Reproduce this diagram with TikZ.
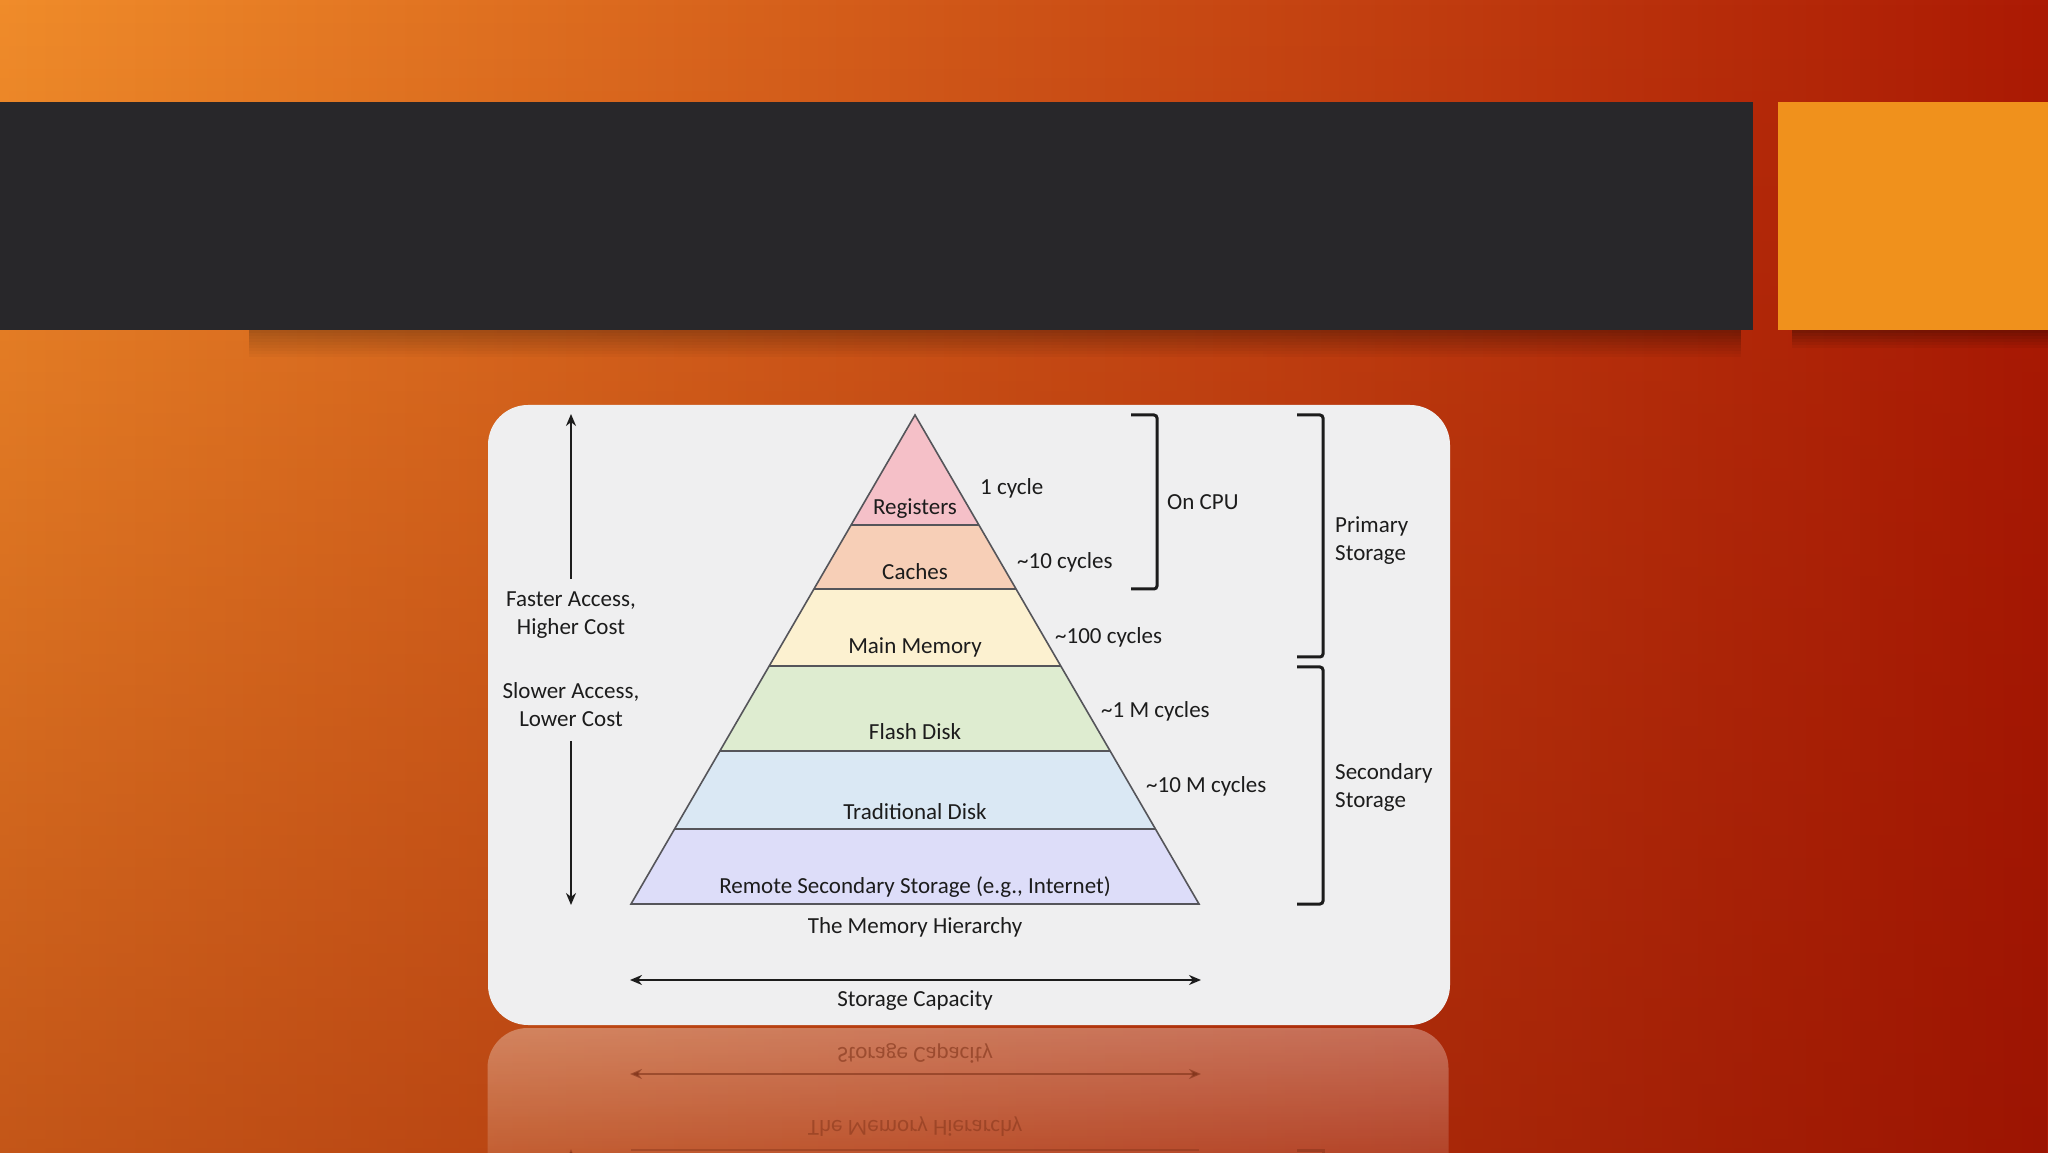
\documentclass[tikz,border=0pt]{standalone}
\usepackage{fontspec}
\setmainfont{Carlito}
\usetikzlibrary{arrows.meta,fadings,calc}
\definecolor{bgA}{RGB}{240,140,42}
\definecolor{bgB}{RGB}{216,84,16}
\definecolor{bgC}{RGB}{172,26,4}
\definecolor{bgDark}{RGB}{135,12,0}
\definecolor{bannerc}{RGB}{40,39,42}
\definecolor{accent}{RGB}{240,145,28}
\definecolor{panelc}{RGB}{239,239,240}
\definecolor{cReg}{RGB}{245,192,200}
\definecolor{cCache}{RGB}{247,207,183}
\definecolor{cMain}{RGB}{252,241,208}
\definecolor{cFlash}{RGB}{222,236,208}
\definecolor{cTrad}{RGB}{218,232,244}
\definecolor{cRemote}{RGB}{221,221,249}
\definecolor{ink}{RGB}{28,28,28}
\definecolor{edgec}{RGB}{85,85,90}
\definecolor{reflink}{RGB}{120,45,20}
\tikzfading[name=reflfade, top color=transparent!68, bottom color=transparent!95]
\tikzfading[name=darkbottom, top color=transparent!100, bottom color=transparent!0]
\begin{tikzfadingfrompicture}[name=hfade]
  \shade[left color=transparent!100, right color=transparent!0] (0,0) rectangle (10,1);
\end{tikzfadingfrompicture}
\tikzset{
  lab/.style={font=\fontsize{23}{28}\selectfont, text=ink, inner sep=0pt},
  refllab/.style={font=\fontsize{23}{28}\selectfont, text=reflink, inner sep=0pt, yscale=-1, opacity=0.55},
  edgeline/.style={draw=edgec, line width=1.6},
  bracketline/.style={draw=ink, line width=3, rounded corners=3},
  arrowline/.style={draw=ink, line width=2.6, -{Stealth[length=12, width=10]}},
  reflline/.style={draw=reflink, line width=2.6, opacity=0.55},
}
\begin{document}
\begin{tikzpicture}[x=1pt, y=1pt]
\useasboundingbox (0,0) rectangle (2048,1152);
% background
\shade[left color=bgA, middle color=bgB, right color=bgC] (0,0) rectangle (2048,1152);
\fill[bgDark, fill opacity=0.42, path fading=darkbottom] (0,0) rectangle (2048,1152);
% banner shadows (soft, darker toward the right)
\foreach \i [evaluate=\i as \op using 0.55*(1-\i/9)] in {0,...,8}{
  \fill[black, fill opacity=\op, path fading=hfade] (250,819-3*\i) rectangle (1742,822-3*\i);
}
\foreach \i [evaluate=\i as \op using 0.3*(1-\i/6)] in {0,...,5}{
  \fill[black, fill opacity=\op] (1792,819-3*\i) rectangle (2048,822-3*\i);
}
% banner and accent
\fill[bannerc] (0,822) rectangle (1753,1050);
\fill[accent] (1778,822) rectangle (2048,1050);
% panel
\fill[panelc, rounded corners=40] (488,127) rectangle (1450,747);
% pyramid
\coordinate (A) at (915,737);
\coordinate (BL) at (631,248);
\coordinate (BR) at (1199,248);
\foreach \ta/\tb/\col in {0/0.225/cReg, 0.225/0.356/cCache, 0.356/0.513/cMain, 0.513/0.687/cFlash, 0.687/0.847/cTrad, 0.847/1/cRemote}{
  \fill[\col] ($(A)!\ta!(BL)$) -- ($(A)!\tb!(BL)$) -- ($(A)!\tb!(BR)$) -- ($(A)!\ta!(BR)$) -- cycle;
}
\foreach \tb in {0.225,0.356,0.513,0.687,0.847}{
  \draw[edgeline] ($(A)!\tb!(BL)$) -- ($(A)!\tb!(BR)$);
}
\draw[edgeline, line join=miter] (A) -- (BL) -- (BR) -- cycle;
% layer labels
\node[lab] (reg) at (915,643) {Registers};
\node[lab] (cache) at (915,580) {Caches};
\node[lab] (mainm) at (915,505) {Main Memory};
\node[lab] (flash) at (915,420) {Flash Disk};
\node[lab] (trad) at (915,340) {Traditional Disk};
\node[lab] (remote) at (915,265) {Remote Secondary Storage (e.g., Internet)};
\node[lab] (title) at (915,225) {The Memory Hierarchy};
% latency labels
\node[lab, anchor=west] (l1) at (980,664) {1 cycle};
\node[lab, anchor=west] (l2) at (1017,590) {\textasciitilde10 cycles};
\node[lab, anchor=west] (l3) at (1055,515) {\textasciitilde100 cycles};
\node[lab, anchor=west] (l4) at (1101,441) {\textasciitilde1 M cycles};
\node[lab, anchor=west] (l5) at (1146,366) {\textasciitilde10 M cycles};
% brackets
\draw[bracketline] (1131,737) -- (1157,737) -- (1157,563) -- (1131,563);
\node[lab, anchor=west] (oncpu) at (1167,650) {On CPU};
\draw[bracketline] (1297,737) -- (1323,737) -- (1323,495) -- (1297,495);
\node[lab, anchor=west, align=left] (prim) at (1335,611) {Primary\\Storage};
\draw[bracketline] (1297,485) -- (1323,485) -- (1323,248) -- (1297,248);
\node[lab, anchor=west, align=left] (sec) at (1335,365) {Secondary\\Storage};
% left arrows
\node[lab, align=center] (fast) at (571,537) {Faster Access,\\Higher Cost};
\node[lab, align=center] (slow) at (571,447) {Slower Access,\\Lower Cost};
\coordinate (upS) at (571,573);
\coordinate (upE) at (571,738);
\coordinate (dnS) at (571,411);
\coordinate (dnE) at (571,247);
\draw[arrowline] (upS) -- (upE);
\draw[arrowline] (dnS) -- (dnE);
% capacity arrow
\coordinate (capL) at (630,172);
\coordinate (capR) at (1201,172);
\draw[arrowline, {Stealth[length=12, width=10]}-{Stealth[length=12, width=10]}] (capL) -- (capR);
\node[lab] (cap) at (915,151) {Storage Capacity};
% reflection
\begin{scope}
  \clip (480,0) rectangle (1460,124);
  \fill[white, path fading=reflfade, rounded corners=40] (488,-60) rectangle (1450,124);
  \coordinate (rcapL) at (630,78);
  \coordinate (rcapR) at (1201,78);
  \draw[reflline, {Stealth[length=12, width=10]}-{Stealth[length=12, width=10]}] (rcapL) -- (rcapR);
  \node[refllab] (rcap) at (915,99) {Storage Capacity};
  \node[refllab, opacity=0.45] (rtitle) at (915,25) {The Memory Hierarchy};
  \coordinate (rBL) at (631,2);
  \coordinate (rBR) at (1199,2);
  \draw[reflline, line width=1.6, opacity=0.35] (rBL) -- (rBR);
  \coordinate (rdn) at (571,0);
  \draw[reflline, opacity=0.4, {Stealth[length=12, width=10]}-] (571,3) -- (rdn);
  \draw[reflline, line width=3, opacity=0.4] (1297,2) -- (1323,2) -- (1323,-10);
\end{scope}
\end{tikzpicture}
\end{document}
